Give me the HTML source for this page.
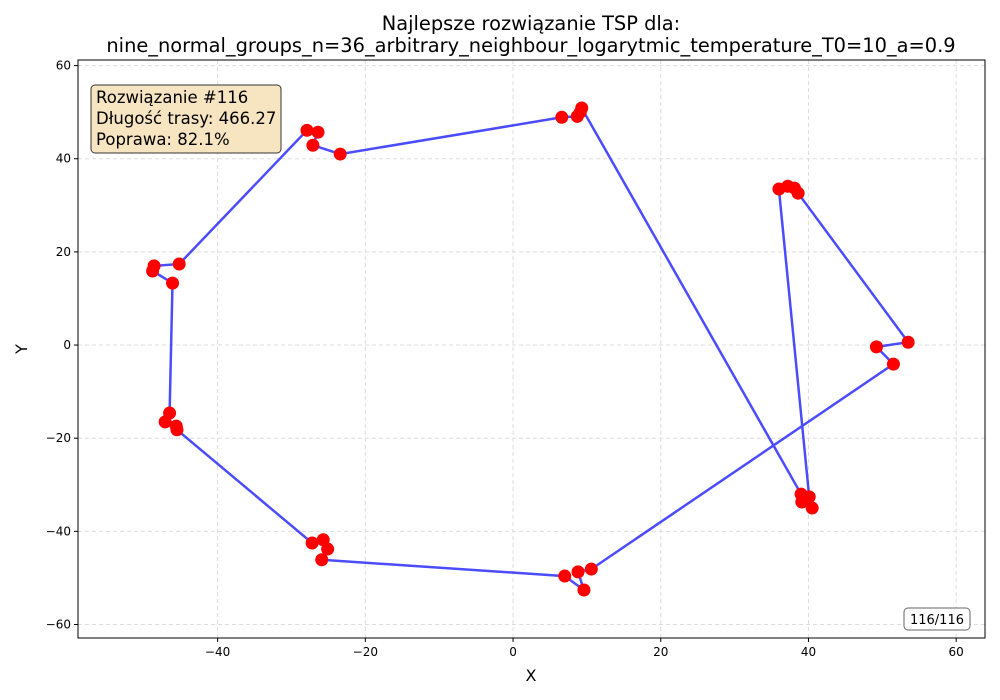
<!DOCTYPE html>
<html><head><meta charset="utf-8"><style>
body{margin:0;background:#fff;}
svg{display:block;font-family:"DejaVu Sans","Liberation Sans",sans-serif;}
</style></head><body>
<svg id="chart" width="1000" height="700">
<g id="grid"></g>
<g id="axes"></g>
<g id="route"></g>
<g id="pts"></g>
<rect x="78" y="60" width="907" height="578" fill="none" stroke="#000" stroke-width="1"/>
<text x="531" y="30" text-anchor="middle" font-size="19.4">Najlepsze rozwiązanie TSP dla:</text>
<text x="531" y="52" text-anchor="middle" font-size="19.4">nine_normal_groups_n=36_arbitrary_neighbour_logarytmic_temperature_T0=10_a=0.9</text>
<text x="531" y="681" text-anchor="middle" font-size="16">X</text>
<text x="27" y="349" text-anchor="middle" font-size="16" transform="rotate(-90 27 349)">Y</text>
<g>
<rect x="91" y="85" width="190" height="68" rx="4" fill="#f5deb3" fill-opacity="0.8" stroke="#333" stroke-width="1"/>
<text x="96" y="103" font-size="16.5">Rozwiązanie #116</text>
<text x="96" y="124" font-size="16.5">Długość trasy: 466.27</text>
<text x="96" y="145" font-size="16.5">Poprawa: 82.1%</text>
</g>
<g>
<rect x="904" y="608" width="66" height="22" rx="4" fill="#fff" stroke="#666"/>
<text x="937" y="624" text-anchor="middle" font-size="13">116/116</text>
</g>
</svg>
<script>
const routeX=[-27.9,-26.4,-27.1,-23.4,6.6,8.7,9.1,9.3,39.0,40.5,39.1,40.1,36.0,37.2,38.1,38.6,53.5,49.2,51.5,10.6,8.8,9.6,7.0,-25.9,-25.1,-25.7,-27.2,-45.5,-45.6,-47.1,-46.5,-46.1,-48.8,-48.6,-45.2];
const routeY=[46.1,45.7,42.9,41.0,48.9,49.1,50.0,50.9,-32.0,-35.0,-33.7,-32.6,33.5,34.1,33.7,32.6,0.6,-0.4,-4.1,-48.1,-48.7,-52.6,-49.6,-46.1,-43.8,-41.8,-42.5,-18.2,-17.4,-16.5,-14.6,13.3,15.9,17.0,17.4];
const xTicks=[-40,-20,0,20,40,60];
const yTicks=[-60,-40,-20,0,20,40,60];
const NS='http://www.w3.org/2000/svg';
const L=78,R=985,T=60,B=638,xmin=-58.9,xmax=63.9,ymin=-62.9,ymax=61.2;
function sx(v){return L+(v-xmin)/(xmax-xmin)*(R-L);}
function sy(v){return B-(v-ymin)/(ymax-ymin)*(B-T);}
function mk(tag,at,parent){const e=document.createElementNS(NS,tag);for(const k in at)e.setAttribute(k,at[k]);document.getElementById(parent).appendChild(e);return e;}
xTicks.forEach(t=>{const x=sx(t);
 const g=mk('line',{x1:x,x2:x,y1:T,y2:B,stroke:'#ddd','stroke-dasharray':'4 3'},'grid');
 
 
 mk('line',{x1:x,x2:x,y1:B,y2:B+4,stroke:'#000'},'axes');
 const tx=mk('text',{x:x,y:B+18,'text-anchor':'middle','font-size':12},'axes');tx.textContent=t===0?'0':(t<0?'−'+(-t):t);
 
 
});
yTicks.forEach(t=>{const y=sy(t);
 const g=mk('line',{x1:L,x2:R,y1:y,y2:y,stroke:'#ddd','stroke-dasharray':'4 3'},'grid');
 
 
 mk('line',{x1:L-4,x2:L,y1:y,y2:y,stroke:'#000'},'axes');
 const tx=mk('text',{x:L-7,y:y+4,'text-anchor':'end','font-size':12},'axes');tx.textContent=t===0?'0':(t<0?'−'+(-t):t);
 
 
});
let d='';
for(let i=0;i<=routeX.length;i++){const j=i%routeX.length;d+=(i?'L':'M')+sx(routeX[j]).toFixed(1)+' '+sy(routeY[j]).toFixed(1);}
const p=mk('path',{d:d,fill:'none',stroke:'#0000ff','stroke-opacity':0.7,'stroke-width':2.5},'route');


routeX.forEach((v,i)=>{const c=mk('circle',{cx:sx(v),cy:sy(routeY[i]),r:6.5,fill:'#ff0000'},'pts');
 
 
});
</script>
</body></html>
